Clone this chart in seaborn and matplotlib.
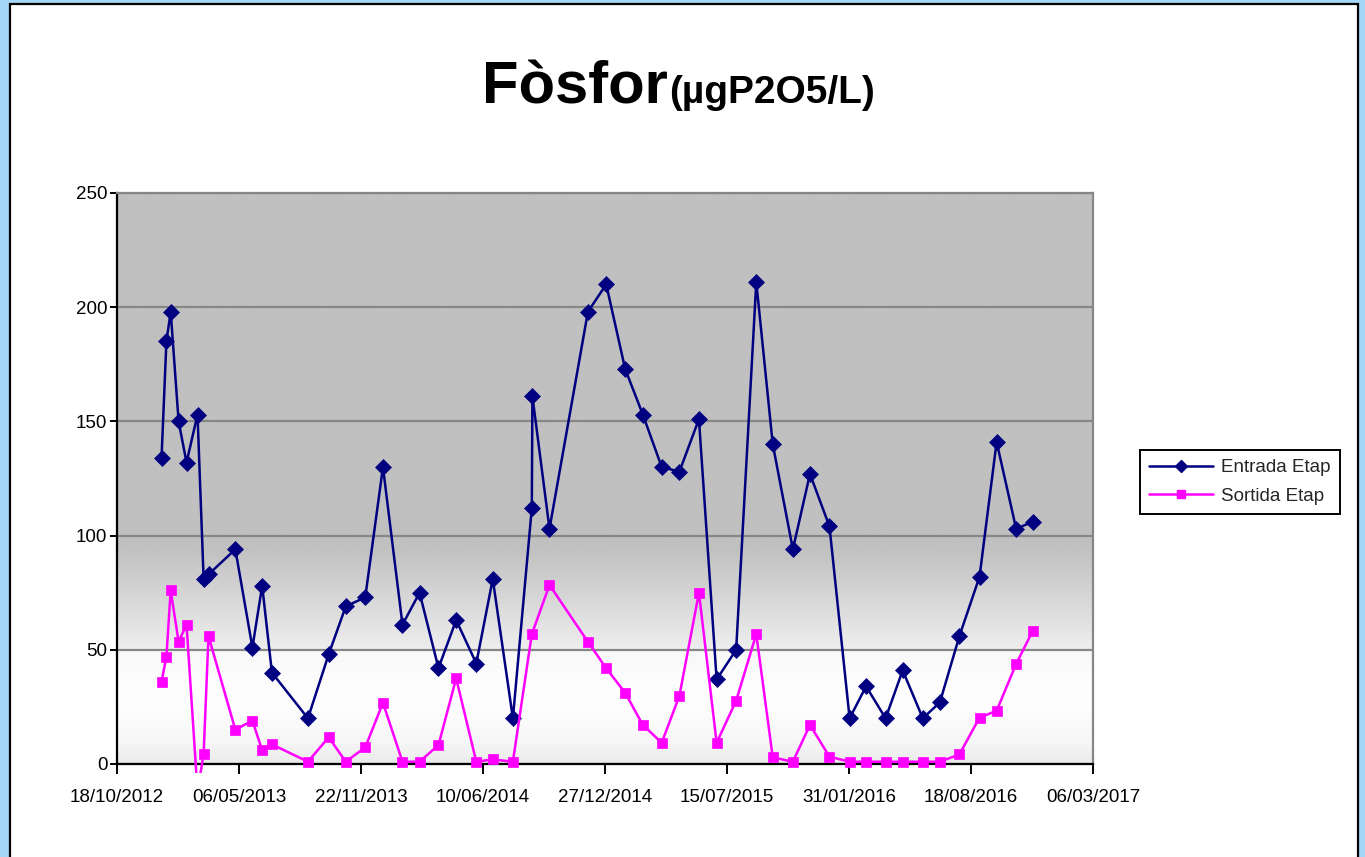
import numpy as np
import pandas as pd
import matplotlib
matplotlib.use("Agg")
import matplotlib.pyplot as plt
import matplotlib.dates as mdates
from matplotlib.patches import Rectangle
from matplotlib.lines import Line2D
import seaborn as sns

# ---------------- data ----------------
dates = [
    "2012-12-30", "2013-01-07", "2013-01-14", "2013-01-27", "2013-02-09", "2013-02-27",
    "2013-03-09", "2013-03-17", "2013-04-30", "2013-05-28", "2013-06-13", "2013-06-29",
    "2013-08-27", "2013-09-30", "2013-10-28", "2013-11-29", "2013-12-28", "2014-01-29",
    "2014-02-26", "2014-03-29", "2014-04-27", "2014-05-30", "2014-06-26", "2014-07-29",
    "2014-08-29", "2014-08-30", "2014-09-27", "2014-11-29", "2014-12-29", "2015-01-29",
    "2015-02-27", "2015-03-30", "2015-04-28", "2015-05-30", "2015-06-28", "2015-07-30",
    "2015-09-01", "2015-09-28", "2015-10-31", "2015-11-28", "2015-12-30", "2016-02-01",
    "2016-02-28", "2016-03-31", "2016-04-28", "2016-05-31", "2016-06-28", "2016-07-30",
    "2016-09-01", "2016-09-29", "2016-10-31", "2016-11-27",
]
entrada = [
    134, 185, 198, 150, 132, 153, 81, 83, 94, 51, 78, 40,
    20, 48, 69, 73, 130, 61, 75, 42, 63, 44, 81, 20,
    112, 161, 103, 198, 210, 173, 153, 130, 128, 151, 37, 50,
    211, 140, 94, 127, 104, 20, 34, 20, 41, 20, 27, 56,
    82, 141, 103, 106,
]
sortida = [
    36, 47, 76, 53.5, 61, -12, 4.4, 56, 15, 19, 6, 8.6,
    1, 11.7, 1, 7.3, 26.8, 1, 1, 8.3, 37.5, 1, 2, 1,
    56.8, np.nan, 78.4, 53.5, 41.9, 31.2, 17.1, 9.3, 29.9, 75, 9.3, 27.7,
    56.9, 2.9, 1, 17.1, 3.2, 1, 1, 1, 1, 1, 1, 4.2,
    20.3, 23.3, 43.8, 58.2,
]
series_names = ["Entrada Etap", "Sortida Etap"]
title_main = "Fòsfor"
title_unit = "(µgP2O5/L)"
y_ticks = [0, 50, 100, 150, 200, 250]
x_tick_dates = ["2012-10-18", "2013-05-06", "2013-11-22", "2014-06-10", "2014-12-27",
                "2015-07-15", "2016-01-31", "2016-08-18", "2017-03-06"]

# ---------------- style ----------------
sns.set_theme(style="white")
plt.rcParams["font.family"] = ["Liberation Sans", "DejaVu Sans"]

navy = "#000080"
magenta = "#FF00FF"
outer_blue = "#A3D5F7"

W, H = 1365, 857
fig = plt.figure(figsize=(W / 100, H / 100), dpi=100)
fig.patch.set_facecolor(outer_blue)
fig.add_artist(Rectangle((10 / W, -0.02), (1358 - 10) / W, 1 - 4 / H + 0.02,
                         transform=fig.transFigure, facecolor="white",
                         edgecolor="black", lw=1.6, zorder=0))

ax = fig.add_axes([117 / W, 93 / H, 976 / W, 571 / H])

n = len(dates)
df = pd.DataFrame({
    "Data": pd.to_datetime(dates * 2),
    "Valor": entrada + sortida,
    "Sèrie": [series_names[0]] * n + [series_names[1]] * n,
}).dropna()

sns.lineplot(data=df, x="Data", y="Valor", hue="Sèrie", style="Sèrie",
             palette={series_names[0]: navy, series_names[1]: magenta},
             markers={series_names[0]: "D", series_names[1]: "s"},
             dashes=False, estimator=None, sort=False, lw=1.8,
             legend=False, ax=ax, zorder=3)

clip_rect = Rectangle((0, -0.015), 1, 1.015, transform=ax.transAxes)
for line in ax.lines:
    c = line.get_color()
    line.set_markeredgecolor(c)
    line.set_markerfacecolor(c)
    line.set_markeredgewidth(0.5)
    if line.get_marker() == "D":
        line.set_markersize(8.3)
    else:
        line.set_markersize(6.5)
    line.set_clip_path(clip_rect)

# background gradient of the plot area
vals = np.linspace(250, 0, 800)
stop_v = [0, 10, 30, 49.9, 50.1, 95, 250]
stop_g = [0xEA, 0xF7, 0xFF, 0xF8, 0xEE, 0xC0, 0xC0]
g = np.interp(vals, stop_v, stop_g) / 255.0
img = np.repeat(g[:, None], 3, axis=1)[:, None, :]
ax.imshow(img, extent=[0, 1, 0, 1], transform=ax.transAxes, aspect="auto",
          origin="upper", zorder=0, interpolation="bilinear")

# axes
ax.set_ylim(0, 250)
ax.set_yticks(y_ticks)
xt = pd.to_datetime(x_tick_dates)
ax.set_xlim(xt[0], xt[-1])
ax.set_xticks(xt)
ax.xaxis.set_major_formatter(mdates.DateFormatter("%d/%m/%Y"))
ax.set_xlabel("")
ax.set_ylabel("")
ax.set_axisbelow(True)
ax.yaxis.grid(True, color="#878787", lw=1.6)
ax.xaxis.grid(False)

for side in ["left", "bottom"]:
    ax.spines[side].set_color("black")
    ax.spines[side].set_linewidth(1.6)
for side in ["top", "right"]:
    ax.spines[side].set_color("#878787")
    ax.spines[side].set_linewidth(1.6)

ax.tick_params(axis="y", which="major", left=True, length=5, width=1.4,
               color="black", labelsize=13.5, pad=2, labelcolor="black")
ax.tick_params(axis="x", which="major", bottom=True, length=7, width=1.4,
               color="black", labelsize=13.5, pad=11, labelcolor="black")

# title
base_y = 1 - 103 / H
fig.text(668 / W, base_y, title_main, ha="right", va="baseline",
         fontsize=43, fontweight="bold", color="black")
fig.text(669 / W, base_y, title_unit, ha="left", va="baseline",
         fontsize=28, fontweight="bold", color="black")

# legend
handles = [
    Line2D([], [], color=navy, lw=1.8, marker="D", markersize=6.5,
           markerfacecolor=navy, markeredgecolor=navy),
    Line2D([], [], color=magenta, lw=1.8, marker="s", markersize=6,
           markerfacecolor=magenta, markeredgecolor=magenta),
]
leg = fig.legend(handles, series_names, loc="center left",
                 bbox_to_anchor=(1140 / W, 1 - 482 / H), frameon=True,
                 fancybox=False, shadow=False, fontsize=13.5,
                 handlelength=3.4, handletextpad=0.4, borderpad=0.5,
                 labelspacing=0.6, borderaxespad=0)
leg.get_frame().set_edgecolor("black")
leg.get_frame().set_linewidth(1.4)
leg.get_frame().set_facecolor("white")
leg.get_frame().set_alpha(1)

fig.savefig("out.png", dpi=100, facecolor=fig.get_facecolor())
